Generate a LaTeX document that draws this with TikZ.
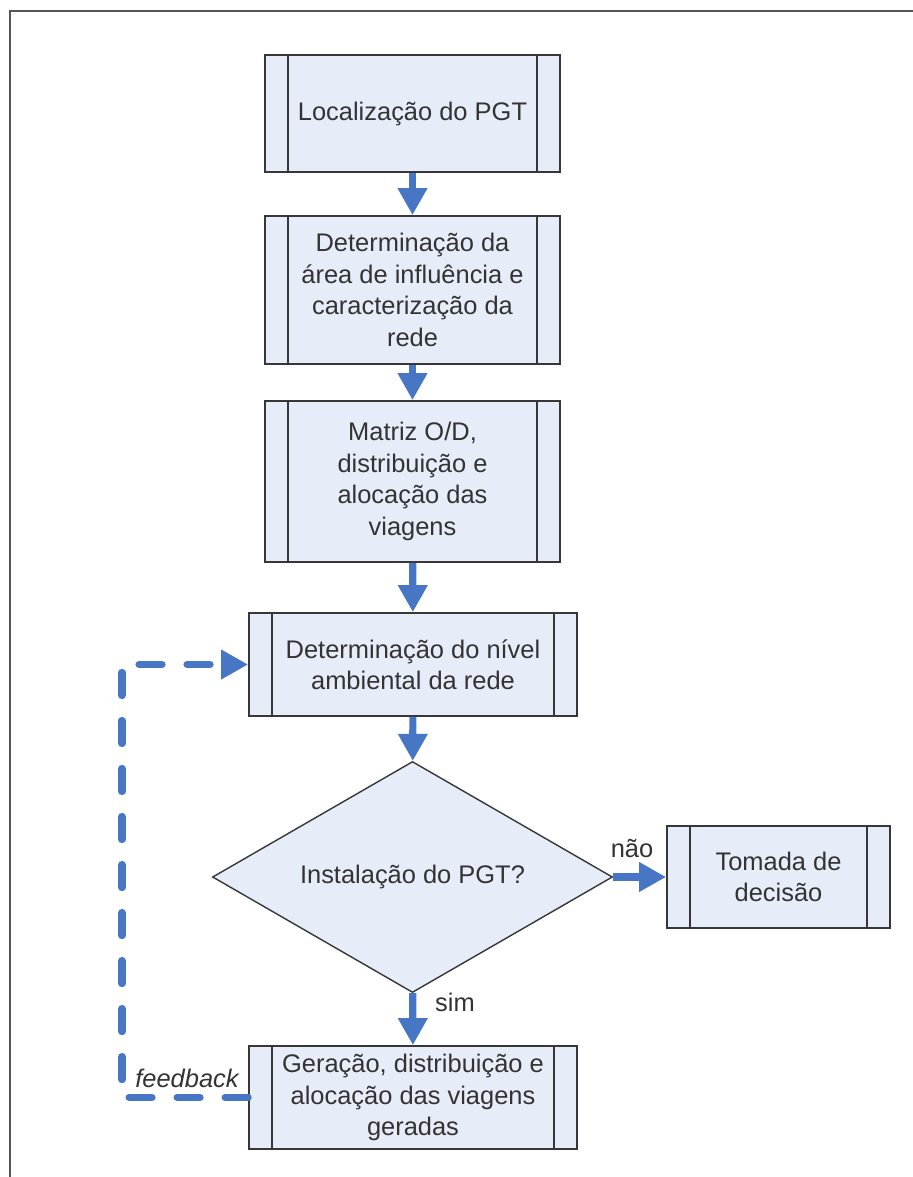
\documentclass[tikz,border=0pt]{standalone}
\usepackage{fontspec}
\setmainfont{Liberation Sans}
\usetikzlibrary{arrows.meta,shapes.geometric}
\definecolor{fluxoazul} {RGB}{70,118,196}
\definecolor{caixafundo}{RGB}{231,237,248}
\definecolor{caixaborda}{RGB}{55, 55, 55}
\definecolor{moldura}   {RGB}{85, 85, 85}

\begin{document}
\begin{tikzpicture}[x=0.025cm,y=-0.025cm,
  font=\fontsize{18.1}{22.4}\selectfont,
  procbox/.style 2 args={draw=caixaborda,fill=caixafundo,line width=1.2pt,
    minimum width=#1,minimum height=#2,inner sep=0pt,align=center,text=black!80,
    path picture={
      \draw[caixaborda,line width=1.5pt]
        ([xshift=0.57cm]path picture bounding box.north west) --
        ([xshift=0.57cm]path picture bounding box.south west);
      \draw[caixaborda,line width=1.5pt]
        ([xshift=-0.57cm]path picture bounding box.north east) --
        ([xshift=-0.57cm]path picture bounding box.south east);}},
  decbox/.style={diamond,draw=caixaborda,fill=caixafundo,line width=1pt,
    aspect=1.73,minimum width=10cm,minimum height=5.775cm,inner sep=0pt,text=black!80},
  seta/.style={fluxoazul,line width=0.18cm,-{Triangle[width=0.7cm,length=0.675cm]}},
  retorno/.style={seta,line cap=round,dash pattern=on 0.575cm off 0.625cm}]
\useasboundingbox (0,0) rectangle (913,1177);
\draw[moldura,line width=1.4pt] (10,1177) -- (10,11) -- (913,11);

\node[procbox={7.375cm}{2.925cm}] (local) at (412.5,113.5) {Localização do PGT};
\node[procbox={7.375cm}{3.7cm}] (area) at (412.5,290)
  {Determinação da\\área de influência e\\caracterização da\\rede};
\node[procbox={7.375cm}{4.025cm}] (matriz) at (412.5,481.5)
  {Matriz O/D,\\distribuição e\\alocação das\\viagens};
\node[procbox={8.2cm}{2.575cm}] (nivel) at (413,664.5)
  {Determinação do nível\\ambiental da rede};
\node[decbox] (instal) at (412.5,877) {Instalação do PGT?};
\node[procbox={5.575cm}{2.55cm}] (decisao) at (778.5,877) {Tomada de\\decisão};
\node[procbox={8.2cm}{2.575cm}] (geracao) at (413,1097.5)
  {Geração, distribuição e\\alocação das viagens\\geradas};

\draw[seta] (local) -- (area);
\draw[seta] (area) -- (matriz);
\draw[seta] (matriz) -- (nivel);
\draw[seta] (nivel) -- (instal);
\draw[seta] (instal) -- (decisao);
\draw[seta] (instal) -- (geracao);
\node[text=black!80] (nao) at (632,848) {não};
\node[text=black!80] (sim) at (455,1002) {sim};

% laço de retorno
\coordinate (cantoinf) at (122,1097.5);
\coordinate (cantosup) at (122,664.5);
\draw[retorno] (geracao.west) -- (cantoinf) -- (cantosup) -- (nivel.west);
\node[text=black!80,font=\fontsize{18.1}{22.4}\selectfont\itshape] (fb) at (187,1078) {feedback};
\end{tikzpicture}
\end{document}
